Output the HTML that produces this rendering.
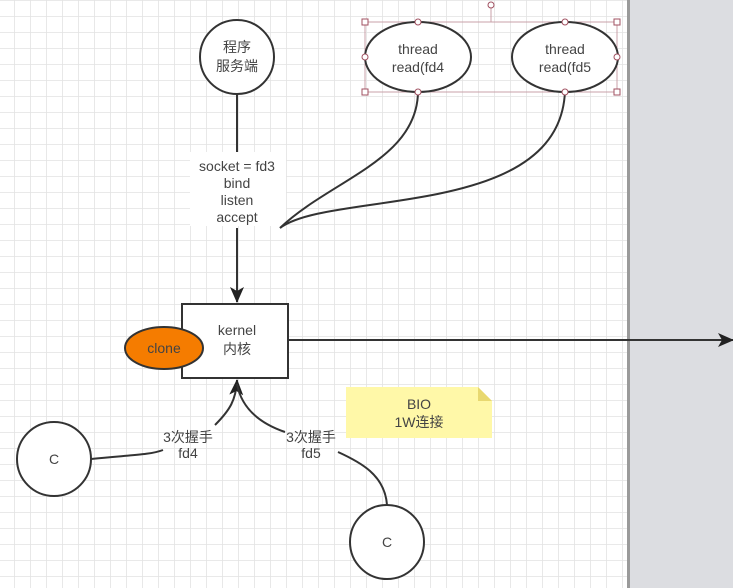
<!DOCTYPE html>
<html><head><meta charset="utf-8"><style>
html,body{margin:0;padding:0;width:733px;height:588px;overflow:hidden;background:#fff}
svg text{font-family:"Liberation Sans","Noto Sans CJK SC",sans-serif;font-size:14px;fill:#444;text-anchor:middle}
</style></head><body>
<svg width="733" height="588" xmlns="http://www.w3.org/2000/svg">
<defs>
<pattern id="g" width="16" height="16" patternUnits="userSpaceOnUse" x="14" y="0">
<path d="M0 0V16M0 0H16" fill="none" stroke="#e2e2e2" stroke-width="1.6"/>
</pattern>
<marker id="a" markerWidth="16" markerHeight="14" refX="15" refY="7" orient="auto" markerUnits="userSpaceOnUse">
<path d="M0 0L16 7L0 14L4 7Z" fill="#222"/></marker>
</defs>
<rect width="630" height="588" fill="url(#g)"/>
<rect x="630" y="0" width="103" height="588" fill="#dcdde1"/>
<rect x="627" y="0" width="3" height="588" fill="#9a9a9a"/>

<circle cx="237" cy="57" r="37" fill="#fff" stroke="#333" stroke-width="2"/>
<text x="237" y="52">程序</text><text x="237" y="71">服务端</text>
<path d="M237 94V152" stroke="#333" stroke-width="2"/>
<path d="M237 228V302" stroke="#333" stroke-width="2" marker-end="url(#a)"/>
<rect x="190" y="152" width="96" height="74" fill="#fff"/>
<text x="237" y="171">socket = fd3</text><text x="237" y="188">bind</text>
<text x="237" y="205">listen</text><text x="237" y="222">accept</text>

<path d="M418 91C418 160 330 180 280 228" fill="none" stroke="#333" stroke-width="2"/>
<path d="M565 91C560 220 330 190 280 228" fill="none" stroke="#333" stroke-width="2"/>

<rect x="365" y="22" width="252" height="70" fill="none" stroke="#c9a0a8" stroke-width="1"/>
<path d="M491 22V8" stroke="#c9a0a8"/><circle cx="491" cy="5" r="3" fill="#fff" stroke="#a05060"/>
<ellipse cx="418" cy="57" rx="53" ry="35" fill="#fff" stroke="#333" stroke-width="2"/>
<ellipse cx="565" cy="57" rx="53" ry="35" fill="#fff" stroke="#333" stroke-width="2"/>
<text x="418" y="54">thread</text><text x="418" y="72">read(fd4</text>
<text x="565" y="54">thread</text><text x="565" y="72">read(fd5</text>
<g fill="#fff" stroke="#a05060" stroke-width="1">
<rect x="362" y="19" width="6" height="6"/><rect x="614" y="19" width="6" height="6"/>
<rect x="362" y="89" width="6" height="6"/><rect x="614" y="89" width="6" height="6"/>
<circle cx="418" cy="22" r="3"/><circle cx="565" cy="22" r="3"/>
<circle cx="418" cy="92" r="3"/><circle cx="565" cy="92" r="3"/>
<circle cx="365" cy="57" r="3"/><circle cx="617" cy="57" r="3"/>
</g>

<rect x="182" y="304" width="106" height="74" fill="#fff" stroke="#333" stroke-width="2"/>
<text x="237" y="335">kernel</text><text x="237" y="354">内核</text>
<ellipse cx="164" cy="348" rx="39" ry="21" fill="#f57c00" stroke="#333" stroke-width="2"/>
<text x="164" y="353">clone</text>
<path d="M288 340H733" stroke="#333" stroke-width="2" marker-end="url(#a)"/>

<circle cx="54" cy="459" r="37" fill="#fff" stroke="#333" stroke-width="2"/>
<text x="54" y="464">C</text>
<circle cx="387" cy="542" r="37" fill="#fff" stroke="#333" stroke-width="2"/>
<text x="387" y="547">C</text>
<path d="M91 459C130 455 150 455 163 450" fill="none" stroke="#333" stroke-width="2"/>
<path d="M215 425C230 410 236 400 237 380" fill="none" stroke="#333" stroke-width="2" marker-end="url(#a)"/>
<path d="M285 432C250 420 240 400 237 384" fill="none" stroke="#333" stroke-width="2"/>
<path d="M387 505C385 475 360 462 338 452" fill="none" stroke="#333" stroke-width="2"/>
<text x="188" y="442">3次握手</text><text x="188" y="458">fd4</text>
<text x="311" y="442">3次握手</text><text x="311" y="458">fd5</text>

<path d="M346 387H478L492 401V438H346Z" fill="#fff8a8"/>
<path d="M478 387V401H492Z" fill="#e8d870"/>
<text x="419" y="409">BIO</text><text x="419" y="427">1W连接</text>
</svg>
</body></html>
